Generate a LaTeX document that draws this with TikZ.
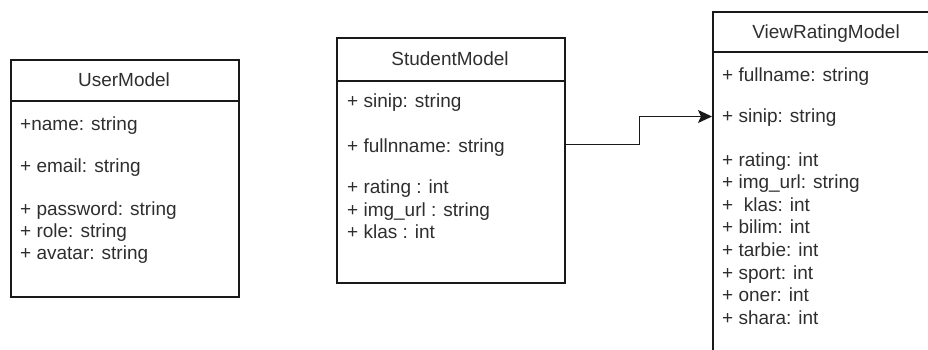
\documentclass[tikz,border=0pt]{standalone}
\usepackage{fontspec}
\setmainfont{Liberation Sans}
\usetikzlibrary{arrows.meta}
\tikzset{
  umlbox/.style={draw=black!90, line width=1.6pt, rectangle, inner sep=0pt,
    minimum width=228pt, anchor=north west},
  divider/.style={draw=black!90, line width=1.6pt},
  classname/.style={anchor=base, inner sep=0pt, text=black!82,
    font=\fontsize{19pt}{23pt}\selectfont},
  attr/.style={anchor=base west, inner sep=0pt, text=black!82,
    font=\fontsize{19pt}{23pt}\selectfont},
  conn/.style={draw=black!90, line width=1.6pt,
    -{Stealth[length=14pt,width=13pt,inset=3pt]}},
}
\begin{document}
\begin{tikzpicture}[x=1pt,y=-1pt]
\clip (0,0) rectangle (928,350);

% UserModel class
\node[umlbox, minimum height=237pt] (um) at (10,59) {};
\draw[divider] ([yshift=-42pt]um.north west) -- ([yshift=-42pt]um.north east);
\node[classname] (umt) at (124,87) {UserModel};
\node[attr] (uname)  at (20,130) {+name: string};
\node[attr] (uemail) at (20,172) {+ email: string};
\node[attr] (upass)  at (20,215) {+ password: string};
\node[attr] (urole)  at (20,237) {+ role: string};
\node[attr] (uavat)  at (20,259) {+ avatar: string};

% StudentModel class
\node[umlbox, minimum height=245pt] (sm) at (336,37) {};
\draw[divider] ([yshift=-44pt]sm.north west) -- ([yshift=-44pt]sm.north east);
\node[classname] (smt) at (450,66) {StudentModel};
\node[attr] (ssinip) at (347,108) {+ sinip: string};
\node[attr] (sfull)  at (347,152) {+ fullnname: string};
\node[attr] (srate)  at (347,193) {+ rating : int};
\node[attr] (simg)   at (347,216) {+ img\_url : string};
\node[attr] (sklas)  at (347,238) {+ klas : int};

% ViewRatingModel class (runs past the right and bottom edges)
\node[umlbox, minimum height=380pt] (vr) at (712,11) {};
\draw[divider] ([yshift=-41pt]vr.north west) -- ([yshift=-41pt]vr.north east);
\node[classname] (vrt) at (826,39) {ViewRatingModel};
\node[attr] (vfull)  at (722,82)  {+ fullname: string};
\node[attr] (vsinip) at (722,123) {+ sinip: string};
\node[attr] (vrate)  at (722,166) {+ rating: int};
\node[attr] (vimg)   at (722,188) {+ img\_url: string};
\node[attr] (vklas)  at (722,211) {+ \ klas: int};
\node[attr] (vbil)   at (722,233) {+ bilim: int};
\node[attr] (vtar)   at (722,256) {+ tarbie: int};
\node[attr] (vspo)   at (722,279) {+ sport: int};
\node[attr] (vone)   at (722,301) {+ oner: int};
\node[attr] (vsha)   at (722,324) {+ shara: int};

% StudentModel -> ViewRatingModel
\draw[conn] ([yshift=7.5pt]sfull.base -| sm.east) -- ++(74,0)
  |- ([yshift=6.5pt]vsinip.base -| vr.west);
\end{tikzpicture}
\end{document}
